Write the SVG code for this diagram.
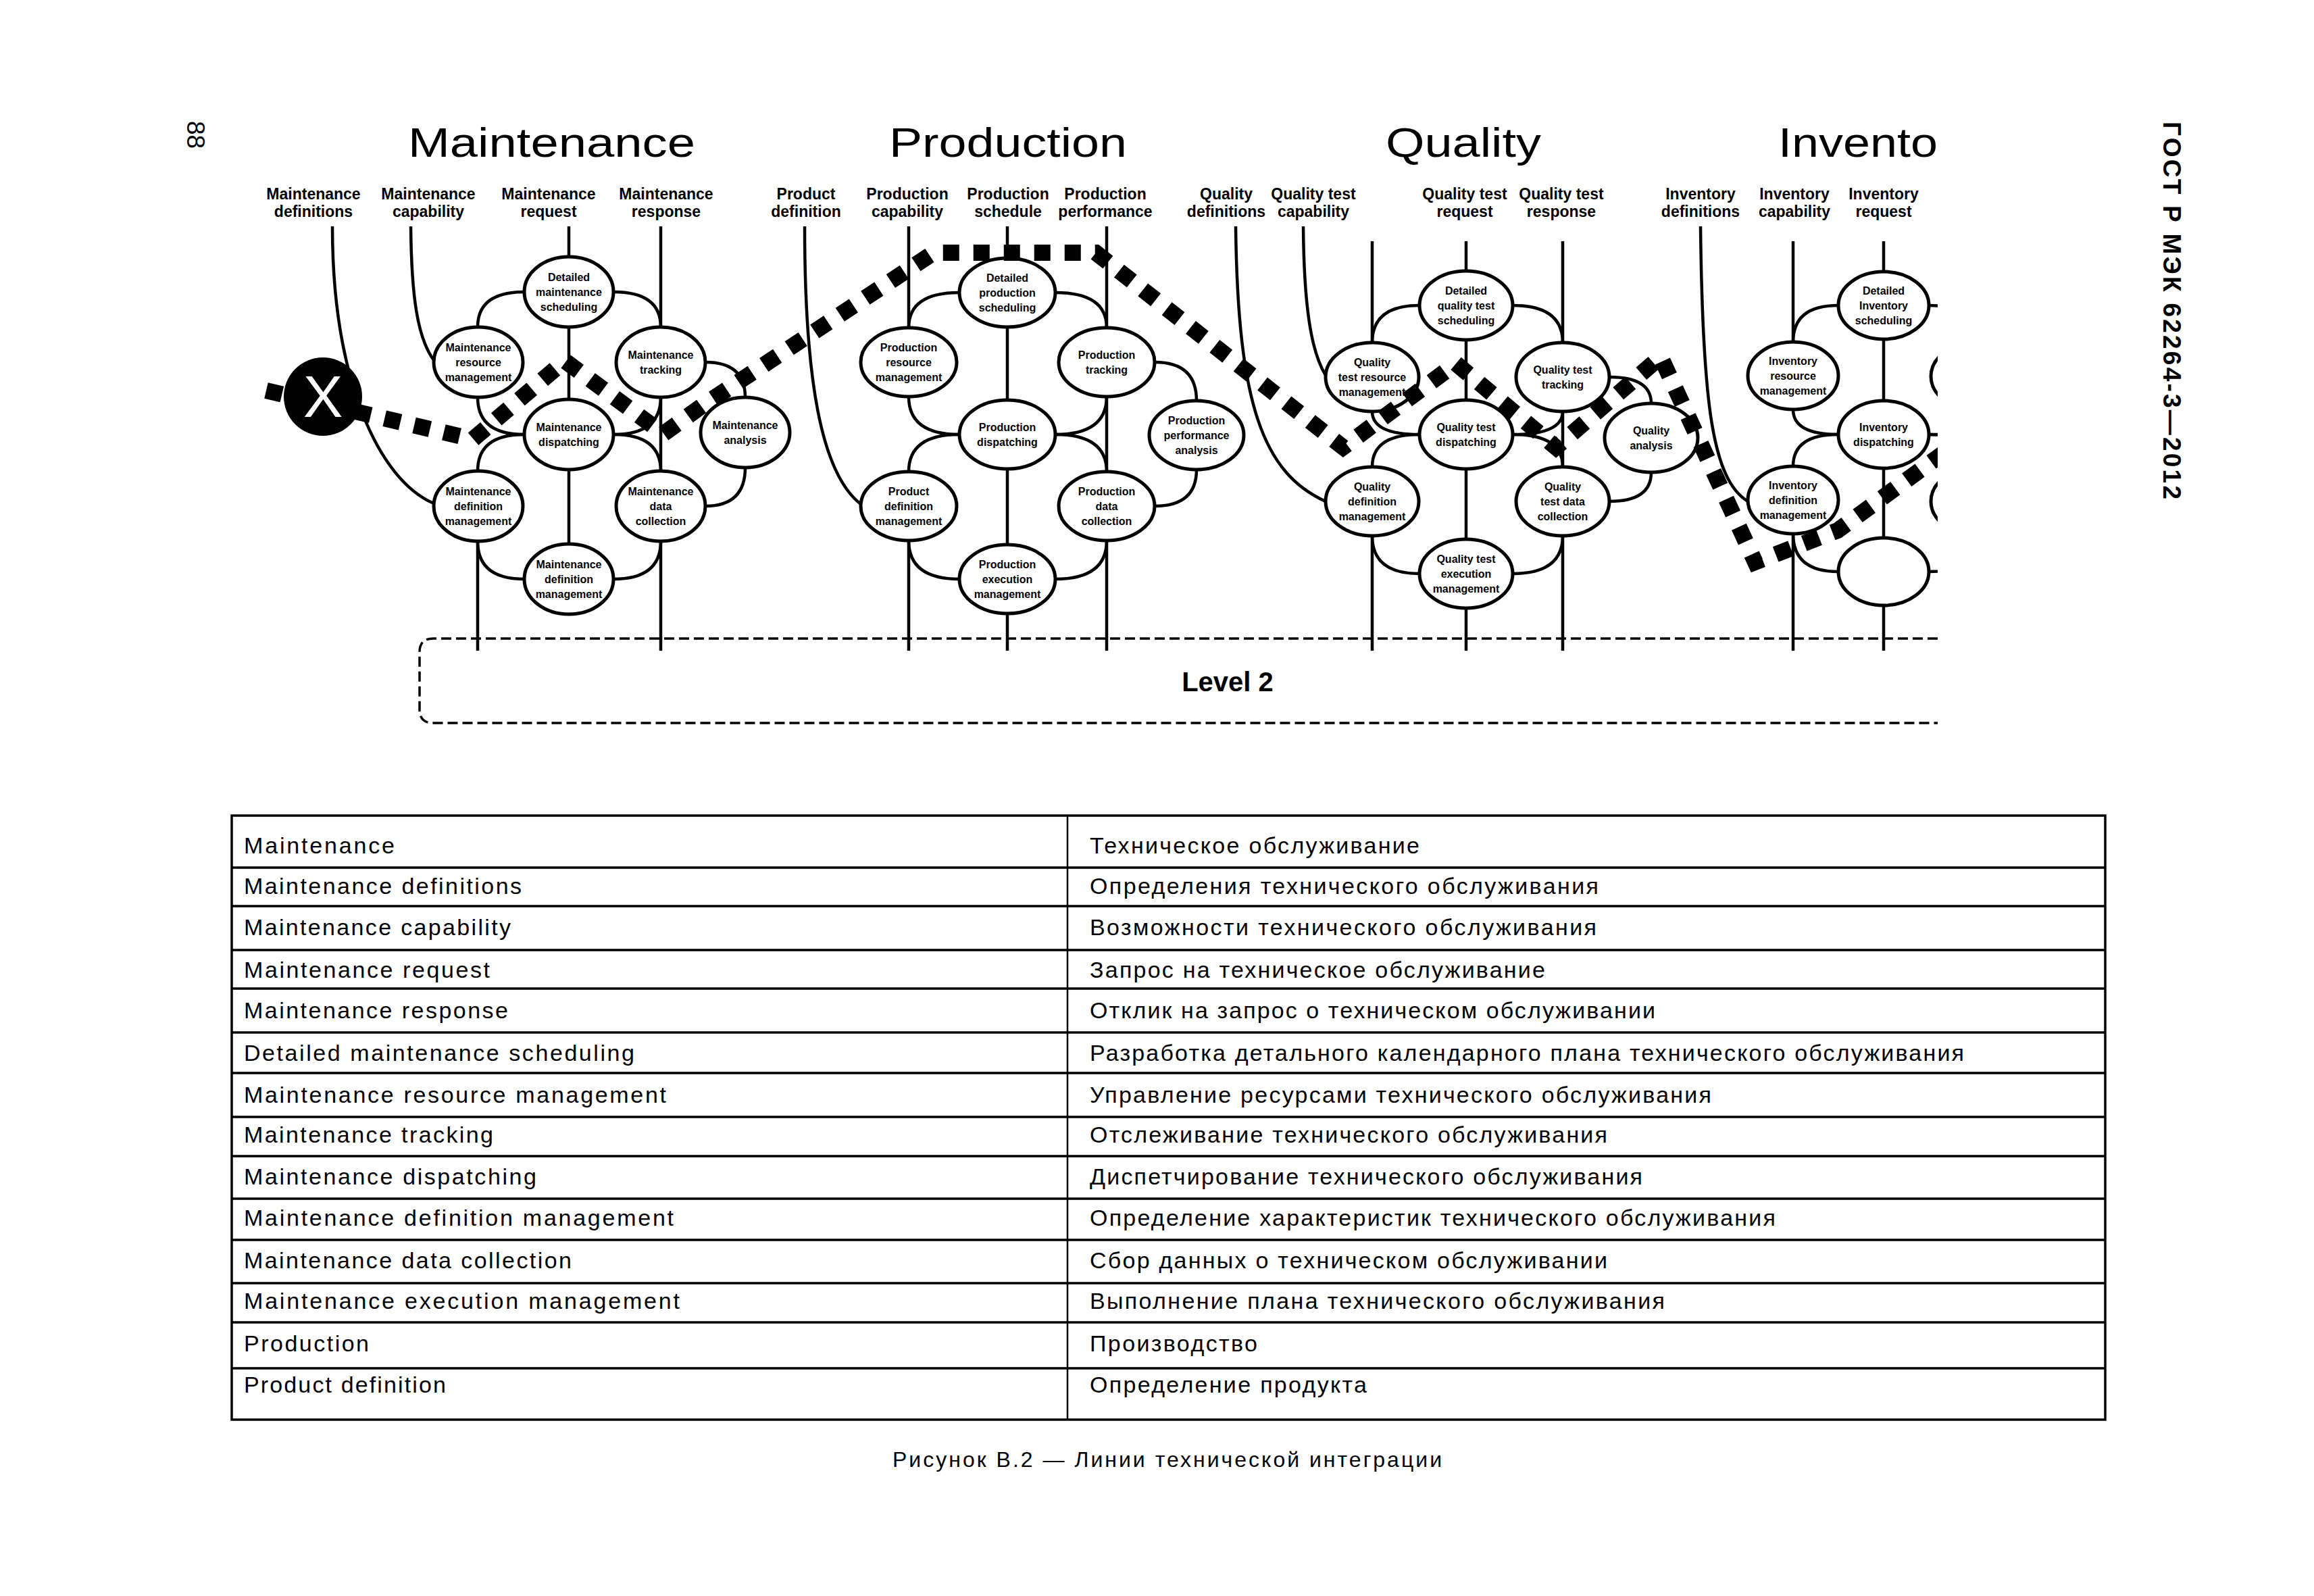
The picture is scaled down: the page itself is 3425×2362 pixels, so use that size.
<svg xmlns="http://www.w3.org/2000/svg" width="3425" height="2362" viewBox="0 0 3425 2362">
<style>
.ln{fill:none;stroke:#000;stroke-width:4.5}
.el{fill:#fff;stroke:#000;stroke-width:5}
.nt{font-family:"Liberation Sans",Arial,sans-serif;font-weight:bold;font-size:16px;text-anchor:middle;fill:#000}
.lb{font-family:"Liberation Sans",Arial,sans-serif;font-weight:bold;font-size:23px;text-anchor:middle;fill:#000}
.tt{font-family:"Liberation Sans",Arial,sans-serif;font-size:62px;fill:#000}
.tb{font-family:"Liberation Sans",Arial,sans-serif;font-size:34px;fill:#000}
.dot{fill:none;stroke:#000;stroke-width:24;stroke-dasharray:24 21}
.box{fill:none;stroke:#000;stroke-width:3.5;stroke-dasharray:15 7}
.grid{fill:none;stroke:#000;stroke-width:3.5}
</style>
<defs>
<clipPath id="clipD"><rect x="0" y="0" width="2868" height="1100"/></clipPath>
</defs>
<rect x="0" y="0" width="3425" height="2362" fill="#fff"/>

<text transform="translate(277,179) rotate(90)" font-family="Liberation Sans, Arial, sans-serif" font-size="37">88</text>
<text transform="translate(3202,180) rotate(90)" font-family="Liberation Sans, Arial, sans-serif" font-size="37" font-weight="bold" textLength="559" lengthAdjust="spacing">ГОСТ Р МЭК 62264-3—2012</text>

<g id="titles">
<text class="tt" x="604" y="232" textLength="425" lengthAdjust="spacingAndGlyphs">Maintenance</text>
<text class="tt" x="1316" y="232" textLength="352" lengthAdjust="spacingAndGlyphs">Production</text>
<text class="tt" x="2051" y="232" textLength="230" lengthAdjust="spacingAndGlyphs">Quality</text>
<text class="tt" x="2632" y="232" textLength="236" lengthAdjust="spacingAndGlyphs">Invento</text>
</g>

<g id="labels">
<text class="lb"><tspan x="464" y="295">Maintenance</tspan><tspan x="464" y="321">definitions</tspan></text>
<text class="lb"><tspan x="634" y="295">Maintenance</tspan><tspan x="634" y="321">capability</tspan></text>
<text class="lb"><tspan x="812" y="295">Maintenance</tspan><tspan x="812" y="321">request</tspan></text>
<text class="lb"><tspan x="986" y="295">Maintenance</tspan><tspan x="986" y="321">response</tspan></text>
<text class="lb"><tspan x="1193" y="295">Product</tspan><tspan x="1193" y="321">definition</tspan></text>
<text class="lb"><tspan x="1343" y="295">Production</tspan><tspan x="1343" y="321">capability</tspan></text>
<text class="lb"><tspan x="1492" y="295">Production</tspan><tspan x="1492" y="321">schedule</tspan></text>
<text class="lb"><tspan x="1636" y="295">Production</tspan><tspan x="1636" y="321">performance</tspan></text>
<text class="lb"><tspan x="1815" y="295">Quality</tspan><tspan x="1815" y="321">definitions</tspan></text>
<text class="lb"><tspan x="1944" y="295">Quality test</tspan><tspan x="1944" y="321">capability</tspan></text>
<text class="lb"><tspan x="2168" y="295">Quality test</tspan><tspan x="2168" y="321">request</tspan></text>
<text class="lb"><tspan x="2311" y="295">Quality test</tspan><tspan x="2311" y="321">response</tspan></text>
<text class="lb"><tspan x="2517" y="295">Inventory</tspan><tspan x="2517" y="321">definitions</tspan></text>
<text class="lb"><tspan x="2656" y="295">Inventory</tspan><tspan x="2656" y="321">capability</tspan></text>
<text class="lb"><tspan x="2788" y="295">Inventory</tspan><tspan x="2788" y="321">request</tspan></text>
</g>

<g clip-path="url(#clipD)">
<g id="level2">
<path class="box" d="M2868,945 H641 Q621,945 621,965 V1050 Q621,1070 641,1070 H2868"/>
<text x="1817" y="1023" font-family="Liberation Sans, Arial, sans-serif" font-size="40" font-weight="bold" text-anchor="middle">Level 2</text>
</g>

<g id="connectors">
<path class="ln" d="M492,335 C492,560 560,710 642,745"/>
<path class="ln" d="M608,335 C609,440 618,500 642,533"/>
<path class="ln" d="M842,335 V857"/>
<path class="ln" d="M978,335 V963"/>
<path class="ln" d="M707,749 V963"/>
<path class="ln" d="M776,432 Q707,432 707,484"/>
<path class="ln" d="M908,432 Q978,432 978,484"/>
<path class="ln" d="M707,588 Q707,643 776,643"/>
<path class="ln" d="M978,588 Q978,643 908,643"/>
<path class="ln" d="M776,643 Q707,643 707,697"/>
<path class="ln" d="M908,643 Q978,643 978,697"/>
<path class="ln" d="M707,801 Q707,857 776,857"/>
<path class="ln" d="M978,801 Q978,857 908,857"/>
<path class="ln" d="M1044,536 Q1103,536 1103,588"/>
<path class="ln" d="M1103,692 Q1103,749 1044,749"/>
<path class="ln" d="M1191,335 C1191,560 1215,700 1274,746"/>
<path class="ln" d="M1345,335 V536"/>
<path class="ln" d="M1491,335 V963"/>
<path class="ln" d="M1638,335 V963"/>
<path class="ln" d="M1345,749 V963"/>
<path class="ln" d="M1420,433 Q1345,433 1345,485"/>
<path class="ln" d="M1562,433 Q1638,433 1638,485"/>
<path class="ln" d="M1345,587 Q1345,643 1420,643"/>
<path class="ln" d="M1638,587 Q1638,643 1562,643"/>
<path class="ln" d="M1420,643 Q1345,643 1345,698"/>
<path class="ln" d="M1562,643 Q1638,643 1638,698"/>
<path class="ln" d="M1345,800 Q1345,857 1420,857"/>
<path class="ln" d="M1638,800 Q1638,857 1562,857"/>
<path class="ln" d="M1709,536 Q1771,536 1771,593"/>
<path class="ln" d="M1771,695 Q1771,749 1709,749"/>
<path class="ln" d="M1829,335 C1832,600 1870,700 1962,742"/>
<path class="ln" d="M1929,335 C1930,450 1940,520 1962,555"/>
<path class="ln" d="M2031,357 V558"/>
<path class="ln" d="M2170,357 V963"/>
<path class="ln" d="M2313,357 V963"/>
<path class="ln" d="M2031,742 V963"/>
<path class="ln" d="M2101,452 Q2031,452 2031,507"/>
<path class="ln" d="M2239,452 Q2313,452 2313,507"/>
<path class="ln" d="M2031,609 Q2031,643 2101,643"/>
<path class="ln" d="M2313,609 Q2313,643 2239,643"/>
<path class="ln" d="M2101,643 Q2031,643 2031,691"/>
<path class="ln" d="M2239,643 Q2313,643 2313,691"/>
<path class="ln" d="M2031,793 Q2031,849 2101,849"/>
<path class="ln" d="M2313,793 Q2313,849 2239,849"/>
<path class="ln" d="M2382,558 Q2444,558 2444,597"/>
<path class="ln" d="M2444,699 Q2444,742 2382,742"/>
<path class="ln" d="M2517,335 C2520,600 2535,710 2587,742"/>
<path class="ln" d="M2654,357 V556"/>
<path class="ln" d="M2788,357 V963"/>
<path class="ln" d="M2654,740 V963"/>
<path class="ln" d="M2721,452 Q2654,452 2654,506"/>
<path class="ln" d="M2855,452 Q2925,452 2925,506"/>
<path class="ln" d="M2654,606 Q2654,643 2721,643"/>
<path class="ln" d="M2721,643 Q2654,643 2654,690"/>
<path class="ln" d="M2855,643 Q2925,643 2925,690"/>
<path class="ln" d="M2925,606 Q2925,643 2855,643"/>
<path class="ln" d="M2654,790 Q2654,846 2721,846"/>
<path class="ln" d="M2925,796 Q2925,846 2855,846"/>
</g>

<g id="maint-detailed-scheduling"><ellipse class="el" cx="842" cy="432" rx="66" ry="52"/><text class="nt"><tspan x="842" y="416">Detailed</tspan><tspan x="842" y="438">maintenance</tspan><tspan x="842" y="460">scheduling</tspan></text></g>
<g id="maint-resource-management"><ellipse class="el" cx="708" cy="536" rx="66" ry="52"/><text class="nt"><tspan x="708" y="520">Maintenance</tspan><tspan x="708" y="542">resource</tspan><tspan x="708" y="564">management</tspan></text></g>
<g id="maint-tracking"><ellipse class="el" cx="978" cy="536" rx="66" ry="52"/><text class="nt"><tspan x="978" y="531">Maintenance</tspan><tspan x="978" y="553">tracking</tspan></text></g>
<g id="maint-dispatching"><ellipse class="el" cx="842" cy="643" rx="66" ry="52"/><text class="nt"><tspan x="842" y="638">Maintenance</tspan><tspan x="842" y="660">dispatching</tspan></text></g>
<g id="maint-analysis"><ellipse class="el" cx="1103" cy="640" rx="66" ry="52"/><text class="nt"><tspan x="1103" y="635">Maintenance</tspan><tspan x="1103" y="657">analysis</tspan></text></g>
<g id="maint-definition-management"><ellipse class="el" cx="708" cy="749" rx="66" ry="52"/><text class="nt"><tspan x="708" y="733">Maintenance</tspan><tspan x="708" y="755">definition</tspan><tspan x="708" y="777">management</tspan></text></g>
<g id="maint-data-collection"><ellipse class="el" cx="978" cy="749" rx="66" ry="52"/><text class="nt"><tspan x="978" y="733">Maintenance</tspan><tspan x="978" y="755">data</tspan><tspan x="978" y="777">collection</tspan></text></g>
<g id="maint-execution-management"><ellipse class="el" cx="842" cy="857" rx="66" ry="52"/><text class="nt"><tspan x="842" y="841">Maintenance</tspan><tspan x="842" y="863">definition</tspan><tspan x="842" y="885">management</tspan></text></g>

<g id="prod-detailed-scheduling"><ellipse class="el" cx="1491" cy="433" rx="71" ry="51"/><text class="nt"><tspan x="1491" y="417">Detailed</tspan><tspan x="1491" y="439">production</tspan><tspan x="1491" y="461">scheduling</tspan></text></g>
<g id="prod-resource-management"><ellipse class="el" cx="1345" cy="536" rx="71" ry="51"/><text class="nt"><tspan x="1345" y="520">Production</tspan><tspan x="1345" y="542">resource</tspan><tspan x="1345" y="564">management</tspan></text></g>
<g id="prod-tracking"><ellipse class="el" cx="1638" cy="536" rx="71" ry="51"/><text class="nt"><tspan x="1638" y="531">Production</tspan><tspan x="1638" y="553">tracking</tspan></text></g>
<g id="prod-dispatching"><ellipse class="el" cx="1491" cy="643" rx="71" ry="51"/><text class="nt"><tspan x="1491" y="638">Production</tspan><tspan x="1491" y="660">dispatching</tspan></text></g>
<g id="prod-performance-analysis"><ellipse class="el" cx="1771" cy="644" rx="70" ry="51"/><text class="nt"><tspan x="1771" y="628">Production</tspan><tspan x="1771" y="650">performance</tspan><tspan x="1771" y="672">analysis</tspan></text></g>
<g id="prod-definition-management"><ellipse class="el" cx="1345" cy="749" rx="71" ry="51"/><text class="nt"><tspan x="1345" y="733">Product</tspan><tspan x="1345" y="755">definition</tspan><tspan x="1345" y="777">management</tspan></text></g>
<g id="prod-data-collection"><ellipse class="el" cx="1638" cy="749" rx="71" ry="51"/><text class="nt"><tspan x="1638" y="733">Production</tspan><tspan x="1638" y="755">data</tspan><tspan x="1638" y="777">collection</tspan></text></g>
<g id="prod-execution-management"><ellipse class="el" cx="1491" cy="857" rx="71" ry="51"/><text class="nt"><tspan x="1491" y="841">Production</tspan><tspan x="1491" y="863">execution</tspan><tspan x="1491" y="885">management</tspan></text></g>

<g id="qual-detailed-scheduling"><ellipse class="el" cx="2170" cy="452" rx="69" ry="51"/><text class="nt"><tspan x="2170" y="436">Detailed</tspan><tspan x="2170" y="458">quality test</tspan><tspan x="2170" y="480">scheduling</tspan></text></g>
<g id="qual-resource-management"><ellipse class="el" cx="2031" cy="558" rx="69" ry="51"/><text class="nt"><tspan x="2031" y="542">Quality</tspan><tspan x="2031" y="564">test resource</tspan><tspan x="2031" y="586">management</tspan></text></g>
<g id="qual-tracking"><ellipse class="el" cx="2313" cy="558" rx="69" ry="51"/><text class="nt"><tspan x="2313" y="553">Quality test</tspan><tspan x="2313" y="575">tracking</tspan></text></g>
<g id="qual-dispatching"><ellipse class="el" cx="2170" cy="643" rx="69" ry="51"/><text class="nt"><tspan x="2170" y="638">Quality test</tspan><tspan x="2170" y="660">dispatching</tspan></text></g>
<g id="qual-analysis"><ellipse class="el" cx="2444" cy="648" rx="69" ry="51"/><text class="nt"><tspan x="2444" y="643">Quality</tspan><tspan x="2444" y="665">analysis</tspan></text></g>
<g id="qual-definition-management"><ellipse class="el" cx="2031" cy="742" rx="69" ry="51"/><text class="nt"><tspan x="2031" y="726">Quality</tspan><tspan x="2031" y="748">definition</tspan><tspan x="2031" y="770">management</tspan></text></g>
<g id="qual-data-collection"><ellipse class="el" cx="2313" cy="742" rx="69" ry="51"/><text class="nt"><tspan x="2313" y="726">Quality</tspan><tspan x="2313" y="748">test data</tspan><tspan x="2313" y="770">collection</tspan></text></g>
<g id="qual-execution-management"><ellipse class="el" cx="2170" cy="849" rx="69" ry="51"/><text class="nt"><tspan x="2170" y="833">Quality test</tspan><tspan x="2170" y="855">execution</tspan><tspan x="2170" y="877">management</tspan></text></g>

<g id="inv-detailed-scheduling"><ellipse class="el" cx="2788" cy="452" rx="67" ry="50"/><text class="nt"><tspan x="2788" y="436">Detailed</tspan><tspan x="2788" y="458">Inventory</tspan><tspan x="2788" y="480">scheduling</tspan></text></g>
<g id="inv-resource-management"><ellipse class="el" cx="2654" cy="556" rx="67" ry="50"/><text class="nt"><tspan x="2654" y="540">Inventory</tspan><tspan x="2654" y="562">resource</tspan><tspan x="2654" y="584">management</tspan></text></g>
<g id="inv-dispatching"><ellipse class="el" cx="2788" cy="643" rx="67" ry="50"/><text class="nt"><tspan x="2788" y="638">Inventory</tspan><tspan x="2788" y="660">dispatching</tspan></text></g>
<g id="inv-definition-management"><ellipse class="el" cx="2654" cy="740" rx="67" ry="50"/><text class="nt"><tspan x="2654" y="724">Inventory</tspan><tspan x="2654" y="746">definition</tspan><tspan x="2654" y="768">management</tspan></text></g>
<g id="inv-execution-management"><ellipse class="el" cx="2788" cy="846" rx="67" ry="50"/></g>
<g id="inv-tracking"><ellipse class="el" cx="2925" cy="557" rx="67" ry="50"/></g>
<g id="inv-data-collection"><ellipse class="el" cx="2925" cy="742" rx="67" ry="50"/></g>

<g id="integration-line">
<path class="dot" d="M394,578 L700,650 L836,534 L982,642 L1040,600 L1382,374 L1622,374 L1988,662 L2155,538 L2303,662 L2458,528 L2598,832 L2720,785 L2880,668"/>
</g>

<g id="x-node">
<circle cx="478" cy="587" r="58" fill="#000"/>
<text x="478" y="617" font-family="Liberation Sans, Arial, sans-serif" font-size="88" fill="#fff" text-anchor="middle">X</text>
</g>
</g>

<g id="table">
<rect class="grid" x="343" y="1207" width="2773" height="894"/>
<path class="grid" d="M343,1284 H3116 M343,1341 H3116 M343,1406 H3116 M343,1463 H3116 M343,1528 H3116 M343,1588 H3116 M343,1653 H3116 M343,1711 H3116 M343,1774 H3116 M343,1835 H3116 M343,1899 H3116 M343,1957 H3116 M343,2025 H3116"/>
<path d="M1580,1207 V2101" stroke="#000" stroke-width="2.5"/>
<text class="tb" x="361" y="1263" textLength="223" lengthAdjust="spacing">Maintenance</text>
<text class="tb" x="361" y="1323" textLength="411" lengthAdjust="spacing">Maintenance definitions</text>
<text class="tb" x="361" y="1384" textLength="395" lengthAdjust="spacing">Maintenance capability</text>
<text class="tb" x="361" y="1447" textLength="364" lengthAdjust="spacing">Maintenance request</text>
<text class="tb" x="361" y="1507" textLength="391" lengthAdjust="spacing">Maintenance response</text>
<text class="tb" x="361" y="1570" textLength="578" lengthAdjust="spacing">Detailed maintenance scheduling</text>
<text class="tb" x="361" y="1632" textLength="625" lengthAdjust="spacing">Maintenance resource management</text>
<text class="tb" x="361" y="1691" textLength="369" lengthAdjust="spacing">Maintenance tracking</text>
<text class="tb" x="361" y="1753" textLength="433" lengthAdjust="spacing">Maintenance dispatching</text>
<text class="tb" x="361" y="1814" textLength="636" lengthAdjust="spacing">Maintenance definition management</text>
<text class="tb" x="361" y="1877" textLength="485" lengthAdjust="spacing">Maintenance data collection</text>
<text class="tb" x="361" y="1937" textLength="645" lengthAdjust="spacing">Maintenance execution management</text>
<text class="tb" x="361" y="2000" textLength="185" lengthAdjust="spacing">Production</text>
<text class="tb" x="361" y="2061" textLength="299" lengthAdjust="spacing">Product definition</text>
<text class="tb" x="1613" y="1263" textLength="488" lengthAdjust="spacing">Техническое обслуживание</text>
<text class="tb" x="1613" y="1323" textLength="753" lengthAdjust="spacing">Определения технического обслуживания</text>
<text class="tb" x="1613" y="1384" textLength="750" lengthAdjust="spacing">Возможности технического обслуживания</text>
<text class="tb" x="1613" y="1447" textLength="674" lengthAdjust="spacing">Запрос на техническое обслуживание</text>
<text class="tb" x="1613" y="1507" textLength="837" lengthAdjust="spacing">Отклик на запрос о техническом обслуживании</text>
<text class="tb" x="1613" y="1570" textLength="1294" lengthAdjust="spacing">Разработка детального календарного плана технического обслуживания</text>
<text class="tb" x="1613" y="1632" textLength="920" lengthAdjust="spacing">Управление ресурсами технического обслуживания</text>
<text class="tb" x="1613" y="1691" textLength="766" lengthAdjust="spacing">Отслеживание технического обслуживания</text>
<text class="tb" x="1613" y="1753" textLength="818" lengthAdjust="spacing">Диспетчирование технического обслуживания</text>
<text class="tb" x="1613" y="1814" textLength="1015" lengthAdjust="spacing">Определение характеристик технического обслуживания</text>
<text class="tb" x="1613" y="1877" textLength="766" lengthAdjust="spacing">Сбор данных о техническом обслуживании</text>
<text class="tb" x="1613" y="1937" textLength="851" lengthAdjust="spacing">Выполнение плана технического обслуживания</text>
<text class="tb" x="1613" y="2000" textLength="248" lengthAdjust="spacing">Производство</text>
<text class="tb" x="1613" y="2061" textLength="410" lengthAdjust="spacing">Определение продукта</text>
</g>

<text id="caption" x="1321" y="2171" font-family="Liberation Sans, Arial, sans-serif" font-size="32" textLength="813" lengthAdjust="spacing">Рисунок В.2 — Линии технической интеграции</text>
</svg>
